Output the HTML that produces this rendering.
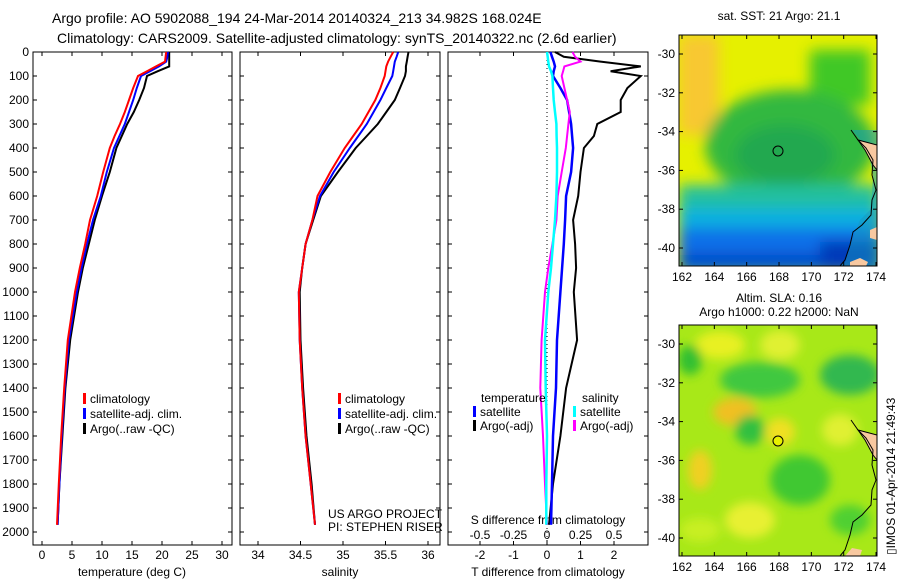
<!DOCTYPE html>
<html><head><meta charset="utf-8">
<style>
body{margin:0;background:#fff;}
svg{display:block;font-family:"Liberation Sans",sans-serif;}
</style></head>
<body>
<svg id="c" width="900" height="580" viewBox="0 0 900 580">
<defs>
<filter id="bl" x="-20%" y="-20%" width="140%" height="140%"><feGaussianBlur stdDeviation="7"/></filter>
<filter id="bl2" x="-20%" y="-20%" width="140%" height="140%"><feGaussianBlur stdDeviation="5"/></filter>
<clipPath id="m1c"><rect x="679" y="35" width="198" height="231"/></clipPath>
<clipPath id="m2c"><rect x="679" y="325" width="198" height="231"/></clipPath>
</defs>
<text x="52" y="23" font-size="14">Argo profile: AO 5902088_194 24-Mar-2014 20140324_213 34.982S 168.024E</text>
<text x="57" y="43" font-size="14">Climatology: CARS2009. Satellite-adjusted climatology: synTS_20140322.nc (2.6d earlier)</text>

<g clip-path="url(#m1c)">
<rect x="679" y="35" width="198" height="231" fill="#e6f000"/>
<g filter="url(#bl)">
<rect x="679" y="35" width="40" height="100" fill="#f8c830"/>
<rect x="810" y="50" width="60" height="55" fill="#40c828"/>
<ellipse cx="790" cy="145" rx="85" ry="55" fill="#30b840"/>
<ellipse cx="785" cy="155" rx="50" ry="30" fill="#20a850"/>
<rect x="679" y="185" width="200" height="35" fill="#20c0a0"/>
<rect x="679" y="208" width="200" height="28" fill="#10b0e0"/>
<rect x="679" y="228" width="200" height="45" fill="#1070e8"/>
<rect x="820" y="242" width="60" height="30" fill="#0030b0"/>
<rect x="679" y="254" width="200" height="12" fill="#0040c0"/>
</g>
<path d="M852,130 L860,140 L865,150 L870,160 L873,175 L872,195 L870,210 L860,220 L852,240 L845,262 L840,266 L877,266 L877,130 Z" fill="#1898c0" opacity="0.5"/>
<path d="M858,140 L865,150 L873,165 L877,170 L877,145 Z" fill="#f8c8a0" stroke="#000" stroke-width="1"/>
<path d="M870,230 L877,227 L877,240 L870,238 Z" fill="#f8c8a0"/>
<path d="M850,262 L860,258 L868,262 L866,266 L850,266Z" fill="#f8c8a0"/>
<path d="M851,130 L858,140 L866,148 L873,160 L872,175 L876,190 L872,200 L871,215 L862,225 L853,232 L850,245 L845,260 L840,266" fill="none" stroke="#000" stroke-width="1"/>
<circle cx="778" cy="151" r="5" fill="none" stroke="#000" stroke-width="1"/>
</g>
<rect x="679" y="35" width="198" height="231" fill="none" stroke="#000"/>
<text x="779" y="20" font-size="12" text-anchor="middle">sat. SST: 21 Argo: 21.1</text>

<g clip-path="url(#m2c)">
<rect x="679" y="325" width="198" height="231" fill="#a8e818"/>
<g filter="url(#bl2)">
<ellipse cx="720" cy="345" rx="25" ry="14" fill="#e8f020"/>
<ellipse cx="690" cy="360" rx="12" ry="15" fill="#30c030"/>
<ellipse cx="780" cy="345" rx="20" ry="15" fill="#e0f030"/>
<ellipse cx="760" cy="380" rx="40" ry="18" fill="#40c840"/>
<ellipse cx="850" cy="375" rx="30" ry="20" fill="#30b850"/>
<ellipse cx="735" cy="412" rx="22" ry="14" fill="#f0c020"/>
<ellipse cx="750" cy="430" rx="15" ry="15" fill="#30c040"/>
<ellipse cx="780" cy="432" rx="15" ry="14" fill="#f0e020"/>
<ellipse cx="700" cy="470" rx="12" ry="20" fill="#f0d020"/>
<ellipse cx="800" cy="480" rx="30" ry="25" fill="#40c830"/>
<ellipse cx="840" cy="430" rx="18" ry="16" fill="#e0f030"/>
<ellipse cx="750" cy="520" rx="25" ry="18" fill="#e8f030"/>
<ellipse cx="700" cy="530" rx="20" ry="12" fill="#c8ef20"/>
<ellipse cx="850" cy="520" rx="20" ry="15" fill="#50d030"/>
</g>
<path d="M858,430 L865,440 L873,455 L877,460 L877,435 Z" fill="#f8c8a0" stroke="#000" stroke-width="1"/>
<path d="M845,556 L852,548 L862,550 L860,556Z" fill="#f8c8a0"/>
<path d="M851,420 L858,430 L866,438 L873,450 L872,465 L876,480 L872,490 L871,505 L862,515 L853,522 L850,535 L845,550 L840,556" fill="none" stroke="#000" stroke-width="1"/>
<circle cx="778" cy="441" r="5" fill="#e8f000" stroke="#000" stroke-width="1"/>
</g>
<rect x="679" y="325" width="198" height="231" fill="none" stroke="#000"/>
<text x="779" y="302" font-size="12" text-anchor="middle">Altim. SLA: 0.16</text>
<text x="779" y="316" font-size="12" text-anchor="middle">Argo h1000: 0.22 h2000: NaN</text>
<text x="0" y="0" font-size="12" transform="translate(895,555) rotate(-90)">▯IMOS 01-Apr-2014 21:49:43</text>
<g id="g"></g>
</svg>
<script>
const depths=[0,20,40,60,80,100,150,200,250,300,350,400,500,600,700,800,900,1000,1200,1400,1600,1800,1970];
const tempClim=[20.7,20.6,20.5,19,17.5,16,15.2,14.5,13.8,13,12.1,11.3,10.2,9.2,8,7.2,6.3,5.5,4.3,3.7,3.2,2.8,2.5];
const tempSat =[21,20.9,20.7,19.5,18,16.5,15.8,15.2,14.5,13.8,12.9,12,10.8,9.8,8.5,7.5,6.6,5.8,4.5,3.8,3.3,2.9,2.6];
const tempArgo=[21.2,21.2,21.2,21.2,19.3,17.5,17,16.2,15.3,14.2,13.3,12.4,11.3,10,8.8,7.8,6.8,6,4.7,3.9,3.4,2.9,2.6];
const salClim=[35.59,35.56,35.53,35.51,35.5,35.49,35.44,35.38,35.3,35.22,35.12,35.02,34.85,34.7,34.64,34.56,34.52,34.48,34.49,34.52,34.56,34.62,34.67];
const salSat =[35.65,35.63,35.61,35.6,35.59,35.58,35.51,35.44,35.36,35.28,35.18,35.08,34.89,34.73,34.64,34.56,34.52,34.48,34.49,34.52,34.56,34.62,34.67];
const salArgo=[35.77,35.76,35.75,35.74,35.74,35.73,35.67,35.61,35.51,35.41,35.28,35.15,34.94,34.74,34.65,34.56,34.52,34.49,34.5,34.53,34.57,34.63,34.67];
const dTsat =[0.1,0.15,0.2,0.24,0.2,0.18,0.4,0.6,0.66,0.72,0.75,0.78,0.72,0.57,0.54,0.5,0.45,0.4,0.3,0.27,0.18,0.15,0.12];
const dTargo=[0.24,0.5,1.6,2.8,1.9,2.8,2.4,2.2,2.2,1.5,1.4,1.1,1.0,0.93,0.78,0.84,0.87,0.8,0.9,0.57,0.4,0.18,0.06];
const dSsat =[0,0.005,0.01,0.015,0.03,0.04,0.045,0.05,0.06,0.07,0.072,0.075,0.075,0.07,0.06,0.045,0.03,0.01,-0.015,-0.01,0,-0.005,-0.005];
const dSargo=[0.19,0.21,0.25,0.13,0.12,0.11,0.13,0.15,0.17,0.16,0.15,0.14,0.11,0.08,0.07,0.04,0.01,-0.015,-0.04,-0.05,-0.03,-0.015,0];
const depthTicks=[0,100,200,300,400,500,600,700,800,900,1000,1100,1200,1300,1400,1500,1600,1700,1800,1900,2000];
const tempTicks=[0,5,10,15,20,25,30];
const salTicks=[34,34.5,35,35.5,36];
const dTTicks=[-2,-1,0,1,2];
const dSTicks=[-0.5,-0.25,0,0.25,0.5];
const lonTicks=[162,164,166,168,170,172,174];
const latTicks=[-30,-32,-34,-36,-38,-40];

const NS="http://www.w3.org/2000/svg", G=document.getElementById('g');
function el(t,a,txt){const e=document.createElementNS(NS,t);for(const k in a)e.setAttribute(k,a[k]);if(txt!==undefined)e.textContent=txt;G.appendChild(e);return e;}
const TOP=52, BOT=545;
const yD=d=>TOP+d*0.24;
const xT=v=>42+v*6, xS=v=>258+(v-34)*85, xdT=v=>547+v*33.5, xdS=v=>547+v*134;
const panels=[[33,232],[240,440],[448,648]];
panels.forEach((p,i)=>{
  const r=el('rect',{x:p[0],y:TOP,width:p[1]-p[0],height:BOT-TOP,fill:'none',stroke:'#000'});
  
  
  depthTicks.forEach(d=>{
    el('line',{x1:p[0],x2:p[0]+4,y1:yD(d),y2:yD(d),stroke:'#000'});
    el('line',{x1:p[1],x2:p[1]-4,y1:yD(d),y2:yD(d),stroke:'#000'});
  });
});
depthTicks.forEach(d=>{
  const t=el('text',{x:29,y:yD(d)+4,'font-size':12,'text-anchor':'end'},String(d));
  
  
});
function xticks(ticks,fx,y,lblY){
  ticks.forEach(v=>{
    el('line',{x1:fx(v),x2:fx(v),y1:BOT,y2:BOT-4,stroke:'#000'});
    el('line',{x1:fx(v),x2:fx(v),y1:TOP,y2:TOP+4,stroke:'#000'});
    const t=el('text',{x:fx(v),y:lblY,'font-size':12,'text-anchor':'middle'},String(v));
    
    
  });
}
xticks(tempTicks,xT,BOT,559);
xticks(salTicks,xS,BOT,559);
xticks(dTTicks,xdT,BOT,559);
dSTicks.forEach(v=>{
  el('line',{x1:xdS(v),x2:xdS(v),y1:BOT,y2:BOT-4,stroke:'#000'});
  const t=el('text',{x:xdS(v),y:539,'font-size':12,'text-anchor':'middle'},String(v));
  
  
});
[['temperature (deg C)',132,576,'temp-axis-title'],['salinity',340,576,'salinity-axis-title'],['T difference from climatology',548,576,'t-diff-axis-title'],['S difference from climatology',548,524,'s-diff-axis-title']].forEach(a=>{
  const t=el('text',{x:a[1],y:a[2],'font-size':12,'text-anchor':'middle'},a[0]);
  
  
});
const z=el('line',{x1:547,x2:547,y1:TOP,y2:BOT,stroke:'#000','stroke-dasharray':'1,3'});


function line(vals,fx,col,w,name){
  const pts=vals.map((v,i)=>fx(v).toFixed(1)+','+yD(depths[i]).toFixed(1)).join(' ');
  const p=el('polyline',{points:pts,fill:'none',stroke:col,'stroke-width':w});
  
  
}
line(tempArgo,xT,'#000',2,'temp-argo-line');
line(tempSat,xT,'#00f',2,'temp-satellite-line');
line(tempClim,xT,'#f00',2,'temp-climatology-line');
line(salArgo,xS,'#000',2,'sal-argo-line');
line(salSat,xS,'#00f',2,'sal-satellite-line');
line(salClim,xS,'#f00',2,'sal-climatology-line');
line(dTargo,xdT,'#000',2,'dT-argo-line');
line(dTsat,xdT,'#00f',2.5,'dT-satellite-line');
line(dSargo,xdS,'#f0f',2,'dS-argo-line');
line(dSsat,xdS,'#0ff',2.5,'dS-satellite-line');
function leg(x,y,col,txt,name){
  const r=el('rect',{x:x,y:y-10,width:3,height:11,fill:col});
  
  
  const t=el('text',{x:x+7,y:y,'font-size':12},txt);
  
  
}
[[83,'climatology','#f00'],[83,'satellite-adj. clim.','#00f'],[83,'Argo(..raw -QC)','#000']].forEach((a,i)=>{leg(a[0],403+i*15,a[2],a[1],'legend-t-'+i);leg(a[0]+255,403+i*15,a[2],a[1],'legend-s-'+i);});
let t1=el('text',{x:481,y:402,'font-size':12},'temperature');
let t2=el('text',{x:582,y:402,'font-size':12},'salinity');
leg(473,416,'#00f','satellite','legend-dT-sat');
leg(473,430,'#000','Argo(-adj)','legend-dT-argo');
leg(573,416,'#0ff','satellite','legend-dS-sat');
leg(573,430,'#f0f','Argo(-adj)','legend-dS-argo');
let c1=el('text',{x:328,y:518,'font-size':12},'US ARGO PROJECT');
let c2=el('text',{x:328,y:531,'font-size':12},'PI: STEPHEN RISER');
const xL=v=>682+(v-162)*16.17;
[[35,266,54],[325,556,344]].forEach((m,k)=>{
  const yL=v=>m[2]+(-30-v)*19.4;
  lonTicks.forEach(v=>{
    el('line',{x1:xL(v),x2:xL(v),y1:m[1],y2:m[1]-4,stroke:'#000'});
    el('line',{x1:xL(v),x2:xL(v),y1:m[0],y2:m[0]+4,stroke:'#000'});
    const t=el('text',{x:xL(v),y:m[1]+15,'font-size':12,'text-anchor':'middle'},String(v));
    
    
  });
  latTicks.forEach(v=>{
    el('line',{x1:679,x2:683,y1:yL(v),y2:yL(v),stroke:'#000'});
    el('line',{x1:877,x2:873,y1:yL(v),y2:yL(v),stroke:'#000'});
    const t=el('text',{x:675,y:yL(v)+4,'font-size':12,'text-anchor':'end'},String(v));
    
    
  });
});
</script>
</body></html>
